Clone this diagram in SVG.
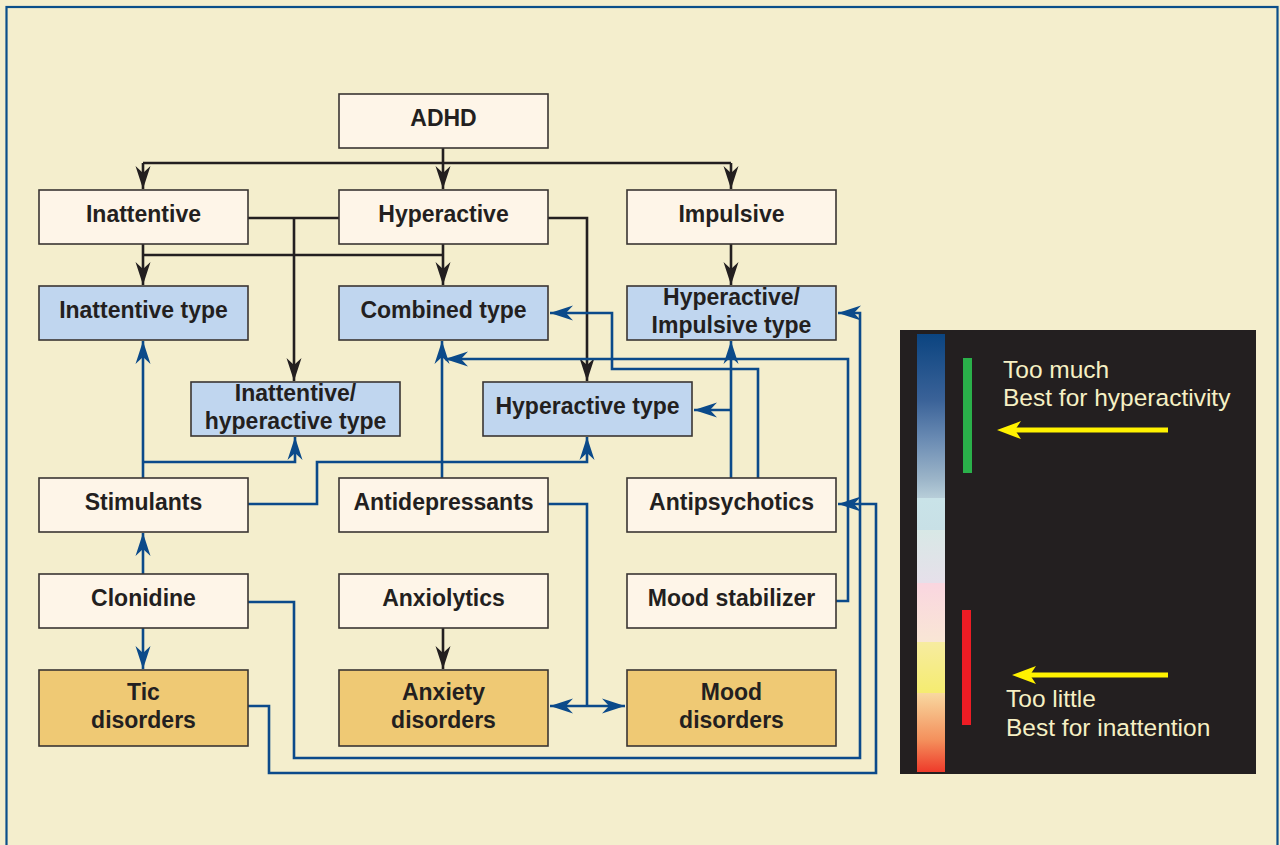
<svg xmlns="http://www.w3.org/2000/svg" width="1280" height="845" viewBox="0 0 1280 845">
<defs>
<style>
.box{stroke:#3a3533;stroke-width:1.6}
.c{fill:#fef5e8}
.b{fill:#c0d6ef}
.o{fill:#efc974}
.t{font-family:"Liberation Sans",Arial,sans-serif;font-weight:bold;font-size:23px;fill:#231f20;text-anchor:middle}
.k{fill:none;stroke:#231f20;stroke-width:2.6}
.u{fill:none;stroke:#0b4a8a;stroke-width:2.6}
.p{font-family:"Liberation Sans",Arial,sans-serif;font-size:24.5px;fill:#f6f0c4}
</style>
<marker id="ak" markerUnits="userSpaceOnUse" markerWidth="26" markerHeight="20" viewBox="-23 -10 26 20" refX="0" refY="0" orient="auto-start-reverse">
<path d="M0,0 L-23,-7.5 L-16,0 L-23,7.5 Z" fill="#231f20"/>
</marker>
<marker id="au" markerUnits="userSpaceOnUse" markerWidth="26" markerHeight="20" viewBox="-23 -10 26 20" refX="0" refY="0" orient="auto-start-reverse">
<path d="M0,0 L-23,-7.5 L-16,0 L-23,7.5 Z" fill="#0b4a8a"/>
</marker>
<linearGradient id="bar" x1="0" y1="0" x2="0" y2="1">
<stop offset="0" stop-color="#0b4480"/>
<stop offset="0.15" stop-color="#3a6298"/>
<stop offset="0.24" stop-color="#6a8bb3"/>
<stop offset="0.33" stop-color="#9bb4c8"/>
<stop offset="0.375" stop-color="#b8ced9"/>
<stop offset="0.375" stop-color="#c9e3e8"/>
<stop offset="0.447" stop-color="#c8e0e6"/>
<stop offset="0.447" stop-color="#d8e8e6"/>
<stop offset="0.568" stop-color="#e6e0ea"/>
<stop offset="0.568" stop-color="#fad6e0"/>
<stop offset="0.703" stop-color="#f9e6d5"/>
<stop offset="0.703" stop-color="#f7eca0"/>
<stop offset="0.82" stop-color="#f5ec70"/>
<stop offset="0.82" stop-color="#f8d8a0"/>
<stop offset="0.927" stop-color="#f4905c"/>
<stop offset="1" stop-color="#ee3a2a"/>
</linearGradient>
</defs>
<rect x="0" y="0" width="1280" height="845" fill="#f4eecd"/>
<rect x="6.5" y="7" width="1271" height="850" fill="none" stroke="#0b4f8a" stroke-width="2.2"/>

<g id="connectors">
<path class="k" d="M443,148 V163 M143,163 H731"/>
<path class="k" d="M143,163 V189" marker-end="url(#ak)"/>
<path class="k" d="M443,163 V189" marker-end="url(#ak)"/>
<path class="k" d="M731,163 V189" marker-end="url(#ak)"/>
<path class="k" d="M248,218 H339"/>
<path class="k" d="M294,218 V381" marker-end="url(#ak)"/>
<path class="k" d="M143,244 V285" marker-end="url(#ak)"/>
<path class="k" d="M143,255 H443"/>
<path class="k" d="M443,244 V285" marker-end="url(#ak)"/>
<path class="k" d="M548,218 H587 V381" marker-end="url(#ak)"/>
<path class="k" d="M731,244 V285" marker-end="url(#ak)"/>
<path class="k" d="M443,628 V669" marker-end="url(#ak)"/>

<path class="u" d="M143,478 V341" marker-end="url(#au)"/>
<path class="u" d="M143,462 H295 V437" marker-end="url(#au)"/>
<path class="u" d="M248,504 H317 V462 H587 V437" marker-end="url(#au)"/>
<path class="u" d="M442,478 V341" marker-end="url(#au)"/>
<path class="u" d="M548,504 H587 V706"/>
<path class="u" d="M550,706 H625" marker-start="url(#au)" marker-end="url(#au)"/>
<path class="u" d="M731,478 V341" marker-end="url(#au)"/>
<path class="u" d="M731,410 H694" marker-end="url(#au)"/>
<path class="u" d="M758,478 V369 H612 V313 H550" marker-end="url(#au)"/>
<path class="u" d="M836,601 H848 V359 H445" marker-end="url(#au)"/>
<path class="u" d="M143,574 V533" marker-end="url(#au)"/>
<path class="u" d="M143,628 V669" marker-end="url(#au)"/>
<path class="u" d="M248,602 H294 V758 H860 V313 H838" marker-end="url(#au)"/>
<path class="u" d="M248,706 H269 V773 H876 V504 H838" marker-end="url(#au)"/>
</g>

<g id="adhd"><rect class="box c" x="339" y="94" width="209" height="54"/><text class="t" x="443.5" y="126">ADHD</text></g>
<g id="inattentive"><rect class="box c" x="39" y="190" width="209" height="54"/><text class="t" x="143.5" y="222">Inattentive</text></g>
<g id="hyperactive"><rect class="box c" x="339" y="190" width="209" height="54"/><text class="t" x="443.5" y="222">Hyperactive</text></g>
<g id="impulsive"><rect class="box c" x="627" y="190" width="209" height="54"/><text class="t" x="731.5" y="222">Impulsive</text></g>

<g id="inattentive-type"><rect class="box b" x="39" y="286" width="209" height="54"/><text class="t" x="143.5" y="318">Inattentive type</text></g>
<g id="combined-type"><rect class="box b" x="339" y="286" width="209" height="54"/><text class="t" x="443.5" y="318">Combined type</text></g>
<g id="hyperactive-impulsive-type"><rect class="box b" x="627" y="286" width="209" height="54"/><text class="t" x="731.5" y="305">Hyperactive/</text><text class="t" x="731.5" y="333">Impulsive type</text></g>

<g id="inattentive-hyperactive-type"><rect class="box b" x="191" y="382" width="209" height="54"/><text class="t" x="295.5" y="401">Inattentive/</text><text class="t" x="295.5" y="429">hyperactive type</text></g>
<g id="hyperactive-type"><rect class="box b" x="483" y="382" width="209" height="54"/><text class="t" x="587.5" y="414">Hyperactive type</text></g>

<g id="stimulants"><rect class="box c" x="39" y="478" width="209" height="54"/><text class="t" x="143.5" y="510">Stimulants</text></g>
<g id="antidepressants"><rect class="box c" x="339" y="478" width="209" height="54"/><text class="t" x="443.5" y="510">Antidepressants</text></g>
<g id="antipsychotics"><rect class="box c" x="627" y="478" width="209" height="54"/><text class="t" x="731.5" y="510">Antipsychotics</text></g>

<g id="clonidine"><rect class="box c" x="39" y="574" width="209" height="54"/><text class="t" x="143.5" y="606">Clonidine</text></g>
<g id="anxiolytics"><rect class="box c" x="339" y="574" width="209" height="54"/><text class="t" x="443.5" y="606">Anxiolytics</text></g>
<g id="mood-stabilizer"><rect class="box c" x="627" y="574" width="209" height="54"/><text class="t" x="731.5" y="606">Mood stabilizer</text></g>

<g id="tic-disorders"><rect class="box o" x="39" y="670" width="209" height="76"/><text class="t" x="143.5" y="700">Tic</text><text class="t" x="143.5" y="728">disorders</text></g>
<g id="anxiety-disorders"><rect class="box o" x="339" y="670" width="209" height="76"/><text class="t" x="443.5" y="700">Anxiety</text><text class="t" x="443.5" y="728">disorders</text></g>
<g id="mood-disorders"><rect class="box o" x="627" y="670" width="209" height="76"/><text class="t" x="731.5" y="700">Mood</text><text class="t" x="731.5" y="728">disorders</text></g>

<g id="legend">
<rect x="900" y="330" width="356" height="444" fill="#231f20"/>
<rect x="917" y="334" width="28" height="438" fill="url(#bar)"/>
<rect x="963" y="358" width="9" height="115" fill="#2ab04a"/>
<rect x="962" y="610" width="9" height="115" fill="#ed1c24"/>
<path d="M1168,430 H1012" stroke="#fff200" stroke-width="5" fill="none"/>
<path d="M997,430 L1021,421 L1015,430 L1021,439 Z" fill="#fff200"/>
<path d="M1168,675 H1027" stroke="#fff200" stroke-width="5" fill="none"/>
<path d="M1012,675 L1036,666 L1030,675 L1036,684 Z" fill="#fff200"/>
<text class="p" x="1003" y="378">Too much</text>
<text class="p" x="1003" y="406">Best for hyperactivity</text>
<text class="p" x="1006" y="707">Too little</text>
<text class="p" x="1006" y="736">Best for inattention</text>
</g>
</svg>
